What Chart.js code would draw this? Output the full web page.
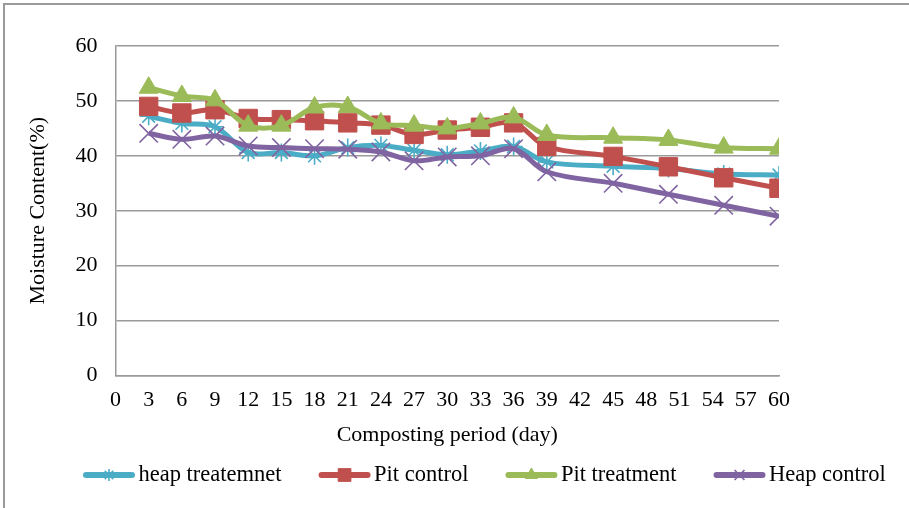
<!DOCTYPE html>
<html>
<head>
<meta charset="utf-8">
<script src="https://cdn.jsdelivr.net/npm/chart.js@4/dist/chart.umd.min.js"></script>
<style>
  html, body { margin: 0; padding: 0; background: #fff; }
  #wrap { position: relative; width: 909px; height: 508px; }
  #frame { position: absolute; left: 3px; top: 3px; right: -10px; bottom: -10px;
           border-left: 2px solid #9a9a9a; border-top: 2px solid #9a9a9a; }
  canvas { position: absolute; left: 0; top: 0; }
</style>
</head>
<body>
<div id="wrap">
  <div id="frame"></div>
  <canvas id="chart" width="909" height="508"></canvas>
</div>
<script>
// data
const days = [3, 6, 9, 12, 15, 18, 21, 24, 27, 30, 33, 36, 39, 45, 50, 55, 60];
const heapTreatment = [47.2, 45.9, 45.3, 40.6, 40.6, 40.0, 41.5, 41.9, 41.0, 40.2, 40.9, 41.7, 38.9, 38.1, 37.7, 36.7, 36.5];
const pitControl = [49.0, 47.8, 48.4, 46.8, 46.6, 46.4, 46.0, 45.6, 43.9, 44.7, 45.2, 46.0, 41.7, 39.9, 38.0, 36.0, 34.1];
const pitTreatment = [52.4, 50.9, 50.1, 45.5, 45.5, 48.8, 48.9, 45.9, 45.5, 45.0, 45.9, 47.0, 43.8, 43.3, 42.9, 41.5, 41.3];
const heapControl = [44.1, 43.0, 43.6, 41.8, 41.5, 41.3, 41.2, 40.7, 39.1, 39.8, 40.0, 41.3, 37.1, 35.0, 33.0, 31.0, 29.0];

const seriesNames = ['heap treatemnet', 'Pit control', 'Pit treatment', 'Heap control'];
const xTitle = 'Composting period (day)';
const yTitle = 'Moisture Content(%)';

const FONT = "'Liberation Serif', 'Times New Roman', serif";
const GRID = '#9a9a9a';

function pts(values) {
  return values.map((v, i) => ({ x: days[i], y: v }));
}

function series(label, values, color, style, radius, legendRadius, order) {
  return {
    label: label,
    data: pts(values),
    borderColor: color,
    backgroundColor: color,
    borderWidth: 5,
    tension: 0.35,
    pointStyle: style,
    pointRadius: radius,
    pointBorderColor: color,
    pointBackgroundColor: color,
    pointBorderWidth: (style === 'star' || style === 'crossRot') ? 1.6 : 1,
    legendRadius: legendRadius,
    order: order
  };
}

// legend drawn by hand: line sample + small marker, then text
const legendPlugin = {
  id: 'sampleLegend',
  afterDraw(chart) {
    const ctx = chart.ctx;
    const y = 475;
    let x = 83;
    ctx.save();
    ctx.font = '22.5px ' + FONT;
    ctx.textBaseline = 'middle';
    chart.data.datasets.forEach(ds => {
      ctx.strokeStyle = ds.borderColor;
      ctx.lineWidth = 6;
      ctx.lineCap = 'round';
      ctx.beginPath();
      ctx.moveTo(x + 3, y);
      ctx.lineTo(x + 49, y);
      ctx.stroke();
      ctx.lineCap = 'butt';
      ctx.fillStyle = ds.borderColor;
      ctx.lineWidth = ds.pointBorderWidth;
      Chart.helpers.drawPoint(ctx, { pointStyle: ds.pointStyle, radius: ds.legendRadius, rotation: 0, borderWidth: ds.pointBorderWidth }, x + 26, y);
      ctx.fillStyle = '#000';
      ctx.fillText(ds.label, x + 55.5, y);
      x += 55.5 + ctx.measureText(ds.label).width + 37;
    });
    ctx.restore();
  }
};

new Chart(document.getElementById('chart'), {
  type: 'line',
  data: {
    datasets: [
      series(seriesNames[0], heapTreatment, '#4BACC6', 'star', 9, 6, 4),
      series(seriesNames[1], pitControl, '#C0504D', 'rect', 13, 9, 3),
      series(seriesNames[2], pitTreatment, '#9BBB59', 'triangle', 11, 7, 2),
      series(seriesNames[3], heapControl, '#8064A2', 'crossRot', 13, 7, 1)
    ]
  },
  options: {
    responsive: false,
    animation: false,
    devicePixelRatio: 1,
    layout: { padding: { left: 0, top: 46, right: 130, bottom: 60 } },
    plugins: {
      legend: { display: false },
      tooltip: { enabled: false }
    },
    scales: {
      x: {
        type: 'linear',
        min: 0,
        max: 60,
        grid: { display: false, drawTicks: false },
        border: { display: true, color: GRID, width: 1.5 },
        ticks: {
          stepSize: 3,
          autoSkip: false,
          maxRotation: 0,
          padding: 12,
          color: '#000',
          font: { family: FONT, size: 22 }
        },
        title: {
          display: true,
          text: xTitle,
          color: '#000',
          font: { family: FONT, size: 22 },
          padding: { top: 0, bottom: 0 }
        },
        afterFit(scale) { scale.height = 72.5; }
      },
      y: {
        min: 0,
        max: 60,
        grid: { color: GRID, lineWidth: 1.5, drawTicks: false },
        border: { display: true, color: GRID, width: 1.5 },
        ticks: {
          stepSize: 10,
          padding: 18,
          color: '#000',
          font: { family: FONT, size: 22 }
        },
        title: {
          display: true,
          text: yTitle,
          color: '#000',
          font: { family: FONT, size: 22 },
          padding: { top: 25, bottom: 0 }
        },
        afterFit(scale) { scale.width = 115.5; }
      }
    }
  },
  plugins: [legendPlugin]
});
</script>
</body>
</html>
